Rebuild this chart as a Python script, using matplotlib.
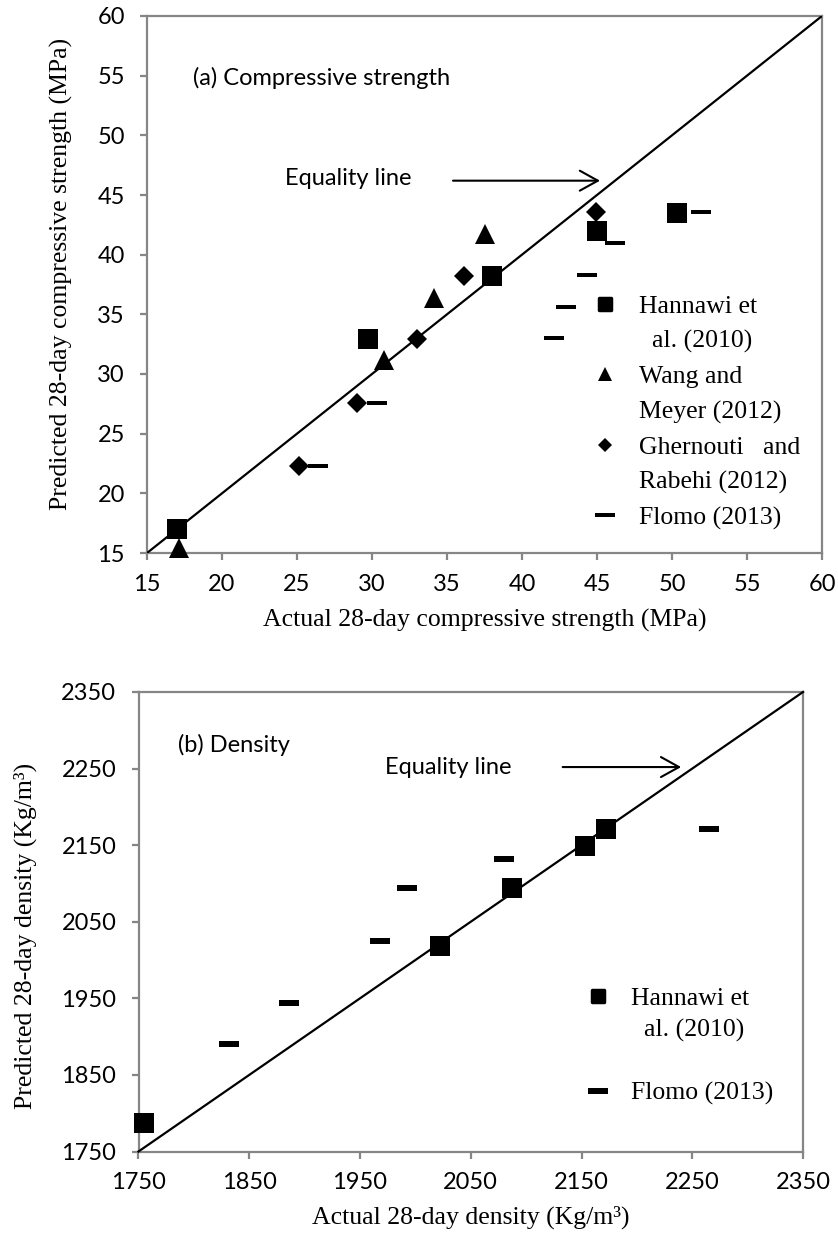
import matplotlib
matplotlib.use('Agg')
import matplotlib.pyplot as plt
from matplotlib.lines import Line2D
from matplotlib.markers import MarkerStyle

# ---------------- data ----------------
# (a) compressive strength (MPa): actual vs predicted
comp_hannawi_actual = [17.0, 29.7, 38.0, 45.0, 50.3]
comp_hannawi_pred = [17.0, 32.9, 38.2, 42.0, 43.5]
comp_wang_actual = [17.1, 30.8, 34.1, 37.5]
comp_wang_pred = [15.4, 31.2, 36.4, 41.7]
comp_ghernouti_actual = [25.1, 29.0, 33.0, 36.1, 44.9]
comp_ghernouti_pred = [22.3, 27.6, 32.9, 38.2, 43.6]
comp_flomo_actual = [26.4, 30.3, 42.1, 42.9, 44.3, 46.2, 51.9]
comp_flomo_pred = [22.3, 27.6, 33.0, 35.6, 38.3, 41.0, 43.6]

# (b) density (kg/m3): actual vs predicted
dens_hannawi_actual = [1755, 2022, 2087, 2153, 2172]
dens_hannawi_pred = [1787, 2018, 2094, 2149, 2171]
dens_flomo_actual = [1832, 1886, 1968, 1992, 2080, 2265]
dens_flomo_pred = [1890, 1944, 2025, 2094, 2132, 2171]

comp_range = [15, 60]
dens_range = [1750, 2350]
comp_ticks = [15, 20, 25, 30, 35, 40, 45, 50, 55, 60]
dens_ticks = [1750, 1850, 1950, 2050, 2150, 2250, 2350]

# ---------------- style ----------------
plt.rcParams['font.family'] = ['Lato', 'DejaVu Sans']
SERIF = ['Liberation Serif', 'DejaVu Serif']
GRAY = '#868686'
LBL = 18.5
TCK = 17
dash_a = [(-1, -0.25), (1, -0.25), (1, 0.25), (-1, 0.25), (-1, -0.25)]
dash_b = [(-1, -0.32), (1, -0.32), (1, 0.32), (-1, 0.32), (-1, -0.32)]

W, H = 838, 1247
fig = plt.figure(figsize=(W / 100, H / 100), dpi=100)
ax1 = fig.add_axes([147 / W, 1 - 553 / H, 675 / W, 537 / H])
ax2 = fig.add_axes([138.5 / W, 1 - 1151.5 / H, 664.5 / W, 459.5 / H])


def style(ax, rng, ticks):
    ax.set_xlim(rng)
    ax.set_ylim(rng)
    ax.set_xticks(ticks)
    ax.set_yticks(ticks)
    for s in ax.spines.values():
        s.set_color(GRAY)
        s.set_linewidth(1.6)
    ax.tick_params(direction='out', length=5, width=1.6, color=GRAY,
                   labelsize=TCK, labelcolor='black')
    ax.tick_params(axis='y', pad=11)
    ax.tick_params(axis='x', pad=10)


def pts(ax, x, y, marker, ms, **kw):
    ax.plot(x, y, linestyle='none', marker=marker, ms=ms, color='black',
            mew=0, clip_on=False, zorder=5, **kw)


arrow_kw = dict(arrowstyle='->,head_length=0.65,head_width=0.36',
                mutation_scale=20, lw=1.5, color='black', shrinkA=0, shrinkB=0)

# ---------------- (a) ----------------
style(ax1, comp_range, comp_ticks)
ax1.plot(comp_range, comp_range, color='black', lw=1.6, zorder=3)
pts(ax1, comp_hannawi_actual, comp_hannawi_pred, 's', 14.5)
pts(ax1, comp_wang_actual, comp_wang_pred, '^', 14.5)
pts(ax1, comp_ghernouti_actual, comp_ghernouti_pred, 'D', 10)
pts(ax1, comp_flomo_actual, comp_flomo_pred, dash_a, 14)

ax1.text(18.07, 54.8, '(a) Compressive strength', fontsize=TCK, va='center', ha='left')
ax1.text(24.2, 46.4, 'Equality line', fontsize=TCK, va='center', ha='left')
ax1.annotate('', xy=(45.2, 46.2), xytext=(35.4, 46.2), arrowprops=arrow_kw)

ax1.set_xlabel('Actual 28-day compressive strength (MPa)', family=SERIF, size=LBL)
ax1.set_ylabel('Predicted 28-day compressive strength (MPa)', family=SERIF, size=LBL)
ax1.xaxis.set_label_coords(0.5, -0.105)
ax1.yaxis.set_label_coords(-0.11, 0.52)

blank = Line2D([], [], linestyle='none', marker=None)
rsq = MarkerStyle('s', joinstyle='round')
h1 = [Line2D([], [], linestyle='none', marker=rsq, ms=8, color='black', mew=2.5),
      blank,
      Line2D([], [], linestyle='none', marker='^', ms=10, color='black', mew=0),
      blank,
      Line2D([], [], linestyle='none', marker='D', ms=7, color='black', mew=0),
      blank,
      Line2D([], [], linestyle='none', marker=dash_a, ms=14, color='black', mew=0)]
l1 = ['Hannawi et', '  al. (2010)', 'Wang and', 'Meyer (2012)',
      'Ghernouti   and', 'Rabehi (2012)', 'Flomo (2013)']
ax1.legend(h1, l1, loc='upper left', bbox_to_anchor=(0.664, 0.481), frameon=False,
           prop={'family': SERIF, 'size': LBL}, handlelength=0.8, handletextpad=0.9,
           labelspacing=0.47, borderpad=0, borderaxespad=0, numpoints=1)

# ---------------- (b) ----------------
style(ax2, dens_range, dens_ticks)
ax2.plot(dens_range, dens_range, color='black', lw=1.6, zorder=3, clip_on=False)
pts(ax2, dens_hannawi_actual, dens_hannawi_pred, 's', 14.5)
pts(ax2, dens_flomo_actual, dens_flomo_pred, dash_b, 14)

ax2.text(1786, 2281, '(b) Density', fontsize=TCK, va='center', ha='left')
ax2.text(1972.5, 2252, 'Equality line', fontsize=TCK, va='center', ha='left')
ax2.annotate('', xy=(2240, 2252), xytext=(2133, 2252), arrowprops=arrow_kw)

ax2.set_xlabel('Actual 28-day density (Kg/m\u00b3)', family=SERIF, size=LBL)
ax2.set_ylabel('Predicted 28-day density (Kg/m\u00b3)', family=SERIF, size=LBL)
ax2.xaxis.set_label_coords(0.5, -0.118)
ax2.yaxis.set_label_coords(-0.153, 0.47)

h2 = [Line2D([], [], linestyle='none', marker=rsq, ms=8, color='black', mew=2.5),
      blank, blank,
      Line2D([], [], linestyle='none', marker=dash_b, ms=14, color='black', mew=0)]
l2 = ['Hannawi et', '  al. (2010)', ' ', 'Flomo (2013)']
ax2.legend(h2, l2, loc='upper left', bbox_to_anchor=(0.676, 0.358), frameon=False,
           prop={'family': SERIF, 'size': LBL}, handlelength=0.8, handletextpad=0.9,
           labelspacing=0.33, borderpad=0, borderaxespad=0, numpoints=1)

fig.savefig('out.png', dpi=100)
